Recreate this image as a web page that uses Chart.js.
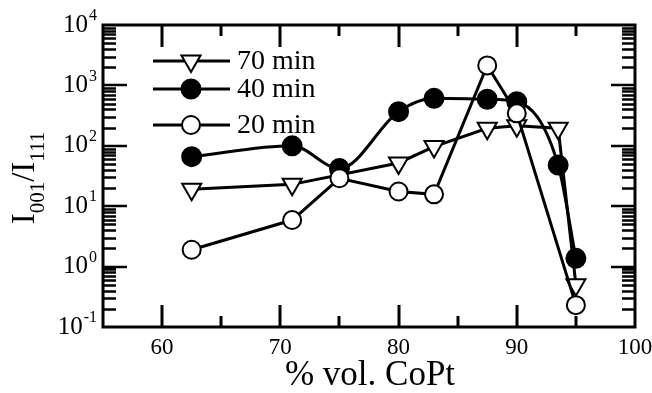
<!DOCTYPE html>
<html>
<head>
<meta charset="utf-8">
<script src="https://cdn.jsdelivr.net/npm/chart.js@4/dist/chart.umd.min.js"></script>
<style>
  html, body { margin: 0; padding: 0; background: #fff; }
</style>
</head>
<body>
<canvas id="c" width="652" height="393"></canvas>
<script>
// values
const seriesNames = ['70 min', '40 min', '20 min'];
const x70 = [62.5, 71, 80, 83, 87.5, 90, 93.5, 95];
const y70 = [19, 23, 52, 97, 195, 214, 195, 0.5];
const x40 = [62.5, 71, 75, 80, 83, 87.5, 90, 93.5, 95];
const y40 = [66, 100, 42, 367, 611, 589, 537, 48, 1.37];
const x20 = [62.5, 71, 75, 80, 83, 87.5, 90, 95];
const y20 = [1.9, 5.9, 29, 17.5, 15.7, 2140, 345, 0.23];
const xTicks = [60, 70, 80, 90, 100];
const xMinorTicks = [65, 75, 85, 95];
const yExponents = [-1, 0, 1, 2, 3, 4];

const FONT = "'Liberation Serif', 'Times New Roman', serif";

function pts(xs, ys) {
  return xs.map((x, i) => ({ x: x, y: ys[i] }));
}

const styles = [
  { pointStyle: 'triangle', rotation: 180, radius: 11, bg: '#fff' },
  { pointStyle: 'circle', rotation: 0, radius: 9.5, bg: '#000' },
  { pointStyle: 'circle', rotation: 0, radius: 9, bg: '#fff' }
];

function makeSet(i, data, tension, order) {
  return {
    label: seriesNames[i],
    data: data,
    borderColor: '#000',
    borderWidth: 3,
    backgroundColor: styles[i].bg,
    pointStyle: styles[i].pointStyle,
    rotation: styles[i].rotation,
    pointRadius: styles[i].radius,
    pointBorderWidth: 2,
    pointBorderColor: '#000',
    pointBackgroundColor: styles[i].bg,
    tension: tension,
    cubicInterpolationMode: tension ? 'monotone' : 'default',
    order: order,
    clip: false
  };
}

const frame = {
  id: 'frame',
  beforeDatasetsDraw(chart) {
    const ctx = chart.ctx;
    const a = chart.chartArea;
    const xs = chart.scales.x, ys = chart.scales.y;
    ctx.save();
    ctx.strokeStyle = '#000';
    ctx.lineWidth = 3;
    ctx.strokeRect(a.left, a.top, a.right - a.left, a.bottom - a.top);
    ctx.beginPath();
    xTicks.concat(xMinorTicks).forEach(v => {
      if (v >= 100) return;
      const len = xMinorTicks.includes(v) ? 11 : 22;
      const px = Math.round(xs.getPixelForValue(v));
      ctx.moveTo(px, a.bottom); ctx.lineTo(px, a.bottom - len);
      ctx.moveTo(px, a.top); ctx.lineTo(px, a.top + len);
    });
    ctx.stroke();
    ctx.lineWidth = 2.5;
    ctx.beginPath();
    yExponents.forEach(e => {
      const base = Math.pow(10, e);
      const py = Math.round(ys.getPixelForValue(base));
      if (e > -1 && e < 4) {
        ctx.moveTo(a.left, py); ctx.lineTo(a.left + 24, py);
        ctx.moveTo(a.right, py); ctx.lineTo(a.right - 24, py);
      }
      if (e < 4) {
        for (let m = 2; m <= 9; m++) {
          const my = Math.round(ys.getPixelForValue(base * m)) + 0.5;
          ctx.moveTo(a.left, my); ctx.lineTo(a.left + 13, my);
          ctx.moveTo(a.right, my); ctx.lineTo(a.right - 13, my);
        }
      }
    });
    ctx.stroke();
    ctx.restore();
  },
  afterDraw(chart) {
    const ctx = chart.ctx;
    const a = chart.chartArea;
    const xs = chart.scales.x, ys = chart.scales.y;
    ctx.save();
    ctx.fillStyle = '#000';
    // x tick labels
    ctx.font = '23px ' + FONT;
    ctx.textAlign = 'center';
    ctx.textBaseline = 'middle';
    xTicks.forEach(v => {
      ctx.fillText(String(v), xs.getPixelForValue(v), 348);
    });
    // y tick labels, 10 with exponent
    yExponents.forEach(e => {
      const py = ys.getPixelForValue(Math.pow(10, e));
      ctx.font = '25px ' + FONT;
      const wBase = ctx.measureText('10').width;
      ctx.font = '16px ' + FONT;
      const wExp = ctx.measureText(String(e)).width;
      const right = 97;
      ctx.textAlign = 'left';
      ctx.textBaseline = 'middle';
      ctx.font = '25px ' + FONT;
      ctx.fillText('10', right - wExp - wBase - 1, py);
      ctx.font = '16px ' + FONT;
      ctx.fillText(String(e), right - wExp, py - 9);
    });
    // x title
    ctx.font = '35px ' + FONT;
    ctx.textAlign = 'center';
    ctx.textBaseline = 'alphabetic';
    ctx.fillText('% vol. CoPt', (a.left + a.right) / 2 + 1, 385);
    // y title I001/I111, rotated
    ctx.translate(34, 178);
    ctx.rotate(-Math.PI / 2);
    const parts = [['I', 33, 0], ['001', 21, 10], ['/', 33, 0], ['I', 33, 0], ['111', 21, 10]];
    let total = 0;
    parts.forEach(p => { ctx.font = p[1] + 'px ' + FONT; total += ctx.measureText(p[0]).width; });
    let cx = -total / 2;
    ctx.textAlign = 'left';
    parts.forEach(p => {
      ctx.font = p[1] + 'px ' + FONT;
      ctx.fillText(p[0], cx, p[2]);
      cx += ctx.measureText(p[0]).width;
    });
    ctx.restore();
    // legend
    ctx.save();
    const legY = [61, 89, 125];
    seriesNames.forEach((name, i) => {
      ctx.strokeStyle = '#000';
      ctx.lineWidth = 3;
      ctx.beginPath();
      ctx.moveTo(153, legY[i]); ctx.lineTo(230, legY[i]);
      ctx.stroke();
      ctx.fillStyle = styles[i].bg;
      ctx.lineWidth = 2;
      Chart.helpers.drawPoint(ctx, {
        pointStyle: styles[i].pointStyle,
        rotation: styles[i].rotation,
        radius: styles[i].radius,
        borderWidth: 2
      }, 191, legY[i]);
      ctx.fillStyle = '#000';
      ctx.font = '28px ' + FONT;
      ctx.textAlign = 'left';
      ctx.textBaseline = 'middle';
      ctx.fillText(name, 237, legY[i] + 1);
    });
    ctx.restore();
  }
};

new Chart(document.getElementById('c'), {
  type: 'line',
  data: {
    datasets: [
      makeSet(0, pts(x70, y70), 0, 1),
      makeSet(1, pts(x40, y40), 0.4, 2),
      makeSet(2, pts(x20, y20), 0, 0)
    ]
  },
  options: {
    responsive: false,
    animation: false,
    devicePixelRatio: 1,
    layout: { padding: { left: 0, right: 17, top: 25, bottom: 0 } },
    plugins: { legend: { display: false }, tooltip: { enabled: false } },
    scales: {
      x: {
        type: 'linear', min: 55, max: 100,
        grid: { display: false }, border: { display: false },
        ticks: { display: false },
        afterFit: s => { s.height = 66; }
      },
      y: {
        type: 'logarithmic', min: 0.1, max: 10000,
        grid: { display: false }, border: { display: false },
        ticks: { display: false },
        afterFit: s => { s.width = 103; }
      }
    }
  },
  plugins: [frame]
});
</script>
</body>
</html>
